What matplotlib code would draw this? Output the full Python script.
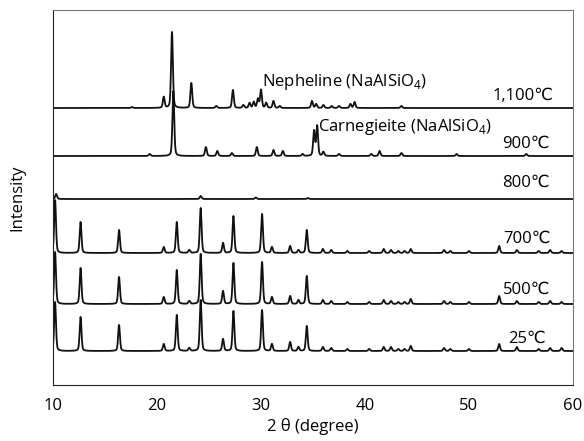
import matplotlib
matplotlib.use("Agg")
import matplotlib.pyplot as plt
import numpy as np

plt.rcParams['font.family'] = ['Open Sans', 'DejaVu Sans']
plt.rcParams['mathtext.fontset'] = 'custom'
plt.rcParams['mathtext.rm'] = 'Open Sans'

# Peak lists: 2-theta positions and heights (in px of plot)
raw_pos = [10.2, 12.65, 16.35, 20.65, 21.9, 23.1, 24.2, 26.35, 27.35, 30.1, 31.05,
           32.8, 33.6, 34.4, 35.95, 36.75, 38.3, 40.4, 41.8, 42.5, 43.2, 43.8,
           44.4, 47.6, 48.2, 50.0, 52.9, 54.6, 56.7, 57.8, 58.9]
h_25 = [49, 34, 26, 7, 36, 3, 51, 12, 40, 41, 7, 9, 4, 25, 4, 3, 2, 2, 4, 4, 2,
        2, 5, 3, 2, 2, 7, 4, 2, 3, 3]
h_500 = [52, 36, 27, 7, 34, 3, 50, 13, 41, 42, 7, 8, 4, 28, 4, 3, 2, 2, 4, 3, 2,
         2, 5, 3, 2, 2, 8, 3, 2, 3, 2]
h_700 = [53, 31, 23, 6, 31, 3, 45, 10, 37, 39, 6, 7, 3, 23, 4, 3, 2, 2, 4, 3, 2,
         2, 4, 3, 2, 2, 7, 3, 2, 3, 2]

pos_800 = [10.3, 24.2, 29.5, 34.5]
h_800 = [5, 3, 1.5, 1]

pos_900 = [19.3, 21.57, 24.7, 25.8, 27.2, 29.6, 31.2, 32.1, 34.0, 35.1, 35.4,
           36.0, 37.5, 40.6, 41.4, 43.5, 48.8, 55.5]
h_900 = [2, 65, 9, 5, 3, 9, 6, 5, 2, 25, 30, 4, 2, 2, 5, 3, 2, 2]

pos_1100 = [17.6, 20.65, 21.44, 23.3, 25.7, 27.3, 28.3, 28.9, 29.3, 29.7, 30.0,
            30.5, 31.2, 31.8, 34.9, 35.3, 36.0, 36.8, 37.5, 38.6, 39.0, 43.5]
h_1100 = [1, 11, 76, 25, 2, 18, 3, 5, 6, 9, 18, 5, 7, 2, 7, 4, 3, 2, 2, 4, 6, 2]

offsets = {'25': 34, '500': 81, '700': 132, '800': 186, '900': 229, '1100': 277}


def profile(x, pos, heights, w=0.085):
    y = np.zeros_like(x)
    for p, h in zip(pos, heights):
        g = np.exp(-0.5 * ((x - p) / w) ** 2)
        lo = 1.0 / (1.0 + ((x - p) / (1.3 * w)) ** 2)
        y += h * (0.7 * g + 0.3 * lo)
    return y


x = np.arange(10.0, 60.0, 0.01)

fig = plt.figure(figsize=(5.84, 4.41), dpi=100)
ax = fig.add_axes([53 / 584, 1 - 385 / 441, 520 / 584, 375 / 441])

series = [('25', raw_pos, h_25), ('500', raw_pos, h_500), ('700', raw_pos, h_700),
          ('800', pos_800, h_800), ('900', pos_900, h_900), ('1100', pos_1100, h_1100)]
for key, p, h in series:
    ax.plot(x, offsets[key] + profile(x, p, h), color='#111111', lw=1.3)

fs = 12
ax.text(30.1, 303, 'Nepheline (NaAlSiO$_\\mathregular{4}$)', fontsize=fs, va='center')
ax.text(52.3, 289, '1,100℃', fontsize=fs, va='center')
ax.text(35.5, 258, 'Carnegieite (NaAlSiO$_\\mathregular{4}$)', fontsize=fs, va='center')
ax.text(53.2, 241, '900℃', fontsize=fs, va='center')
ax.text(53.2, 202, '800℃', fontsize=fs, va='center')
ax.text(53.3, 146, '700℃', fontsize=fs, va='center')
ax.text(53.3, 95, '500℃', fontsize=fs, va='center')
ax.text(53.8, 46, '25℃', fontsize=fs, va='center')

ax.set_xlim(10, 60)
ax.set_ylim(0, 375)
ax.set_xticks([10, 20, 30, 40, 50, 60])
ax.set_yticks([])
ax.tick_params(axis='x', length=0, labelsize=fs, pad=9)
ax.set_xlabel('2 θ (degree)', fontsize=fs, labelpad=3)
ax.set_ylabel('Intensity', fontsize=fs, labelpad=20)
for s in ['top', 'right']:
    ax.spines[s].set_color('#777777')
for s in ['left', 'bottom']:
    ax.spines[s].set_color('#222222')

fig.savefig('out.png', dpi=100)
